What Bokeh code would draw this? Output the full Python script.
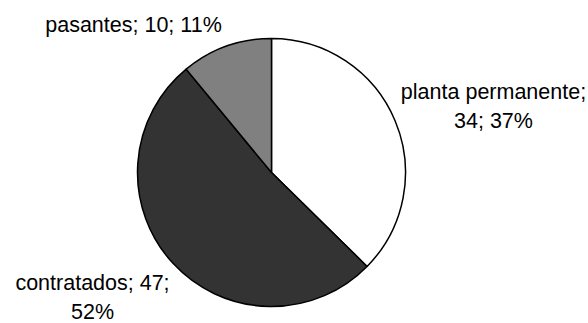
import math
from bokeh.plotting import figure
from bokeh.models import Range1d, ColumnDataSource
from bokeh.core.properties import value
from bokeh.embed import file_html
from bokeh.resources import INLINE

# Staff by type of contract
categories = ["planta permanente", "contratados", "pasantes"]
counts = [34, 47, 10]
slice_colors = ["#ffffff", "#333333", "#808080"]
# number of "; "-separated parts on the first line of each label
first_line_parts = [1, 2, 3]

# layout (data units = pixels, y pointing up)
W, H = 588, 323
CX, CY, R = 271, 151, 134
label_x = [493, 92, 133]
label_y = [232, 41, 299]   # anchor of the first label line
LINE_GAP = 29
FONT = "Liberation Sans"
FONT_SIZE = "21.5px"

total = sum(counts)
starts, ends = [], []
cum = 0
for c in counts:
    starts.append(math.pi / 2 - 2 * math.pi * cum / total)
    cum += c
    ends.append(math.pi / 2 - 2 * math.pi * cum / total)

pie = ColumnDataSource(dict(
    x=[CX] * len(counts), y=[CY] * len(counts),
    start=starts, end=ends, color=slice_colors, name=categories,
))

p = figure(width=W, height=H, output_backend="svg", toolbar_location=None,
           x_range=Range1d(0, W), y_range=Range1d(0, H), min_border=0)
p.axis.visible = False
p.grid.visible = False
p.outline_line_color = None
p.background_fill_color = "white"
p.border_fill_color = "white"

p.wedge(x="x", y="y", radius=R, start_angle="start", end_angle="end",
        direction="clock", fill_color="color", line_color="black",
        line_width=1.5, source=pie)

tx, ty, tt = [], [], []
for i, (name, c) in enumerate(zip(categories, counts)):
    pct = round(100 * c / total)
    parts = [name, str(c), f"{pct}%"]
    k = first_line_parts[i]
    lines = ["; ".join(parts[:k])]
    if k < len(parts):
        lines[0] += ";"
        lines.append("; ".join(parts[k:]))
    for j, line in enumerate(lines):
        tx.append(label_x[i])
        ty.append(label_y[i] - j * LINE_GAP)
        tt.append(line)

p.text(x=tx, y=ty, text=tt, text_align="center", text_baseline="alphabetic",
       text_font=value(FONT), text_font_size=FONT_SIZE, text_color="black")

open("out.html", "w").write(file_html(p, INLINE))
